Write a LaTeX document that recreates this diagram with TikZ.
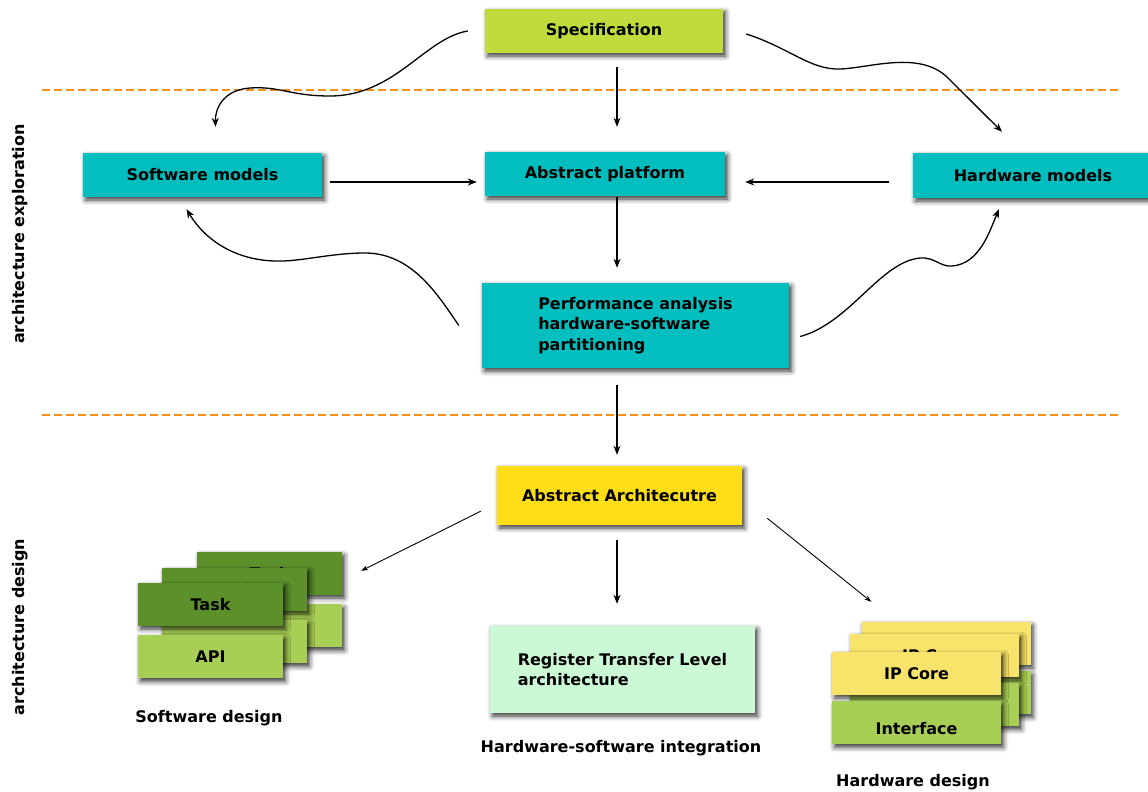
\documentclass[tikz,border=0pt]{standalone}
\usepackage{fontspec}
\setmainfont{DejaVu Sans}
\usetikzlibrary{positioning, arrows.meta, shadows.blur}

\definecolor{spec_green}{RGB}{192,220,60}
\definecolor{model_teal}{RGB}{3,190,190}
\definecolor{arch_yellow}{RGB}{255,222,23}
\definecolor{rtl_green}{RGB}{204,249,213}
\definecolor{sw_dark}{RGB}{91,144,43}
\definecolor{sw_light}{RGB}{168,207,85}
\definecolor{hw_yellow}{RGB}{248,228,106}
\definecolor{layer_orange}{RGB}{247,143,30}

\begin{document}
\begin{tikzpicture}
[
    x=1pt, y=1pt, node distance=9pt,
    every node/.style={font=\bfseries\fontsize{16}{20.5}\selectfont},
    box_node/.style={rectangle, inner sep=0pt, minimum height=44pt, blur shadow={shadow xshift=2.5pt, shadow yshift=-3pt, shadow blur radius=5pt, shadow opacity=80}},
    model_node/.style={box_node, fill=model_teal, minimum width=240pt},
    sw_top/.style={box_node, fill=sw_dark, minimum width=145pt, minimum height=43pt},
    sw_bottom/.style={box_node, fill=sw_light, minimum width=145pt, minimum height=43pt},
    hw_top/.style={box_node, fill=hw_yellow, minimum width=169pt, minimum height=43pt},
    hw_bottom/.style={box_node, fill=sw_light, minimum width=169pt, minimum height=43pt},
    flow/.style={-{Stealth[length=9pt, width=7pt]}, line width=1.3pt},
    thin_flow/.style={-{Stealth[length=7pt, width=5pt]}, line width=0.9pt},
    layer_line/.style={dash pattern=on 8pt off 4pt, line width=1.2pt, draw=layer_orange},
]
    \useasboundingbox (0,0) rectangle (1148,-792);

    \draw[layer_line] (42,-90) -- (1118,-90);
    \draw[layer_line] (42,-415) -- (1118,-415);

    \node[box_node, fill=spec_green, minimum width=238pt] (spec) at (604,-31) {Specification};
    \node[model_node, minimum width=239pt] (sw) at (202.5,-175) {Software models};
    \node[model_node] (platform) at (605,-174) {Abstract platform};
    \node[model_node, minimum height=45pt] (hw) at (1033,-175.5) {Hardware models};
    \node[model_node, minimum width=307pt, minimum height=85pt, align=left] (perf) at (635.5,-325.5) {Performance analysis\\hardware-software\\partitioning};
    \node[box_node, fill=arch_yellow, minimum width=245pt, minimum height=59pt] (arch) at (619.5,-495.5) {Abstract Architecutre};
    \node[box_node, fill=rtl_green, minimum width=265pt, minimum height=87pt, align=left] (rtl) at (622.5,-669.5) {Register Transfer Level\\architecture};

    \node[sw_top] (task3) at (269.5,-573.5) {Task};
    \node[sw_bottom, below=of task3] (api3) {API};
    \node[sw_top] (task2) at (234.5,-589.5) {Task};
    \node[sw_bottom, below=of task2] (api2) {API};
    \node[sw_top] (task1) at (210.5,-604.5) {Task};
    \node[sw_bottom, below=of task1] (api1) {API};

    \node[hw_top] (ip3) at (946,-643.5) {IP Core};
    \node[hw_bottom, below=6pt of ip3] (if3) {};
    \node[hw_top] (ip2) at (934.5,-655.5) {IP Core};
    \node[hw_bottom, below=6pt of ip2] (if2) {};
    \node[hw_top] (ip1) at (916.5,-673.5) {IP Core};
    \node[hw_bottom, below=6pt of ip1] (if1) {\raisebox{-11.5pt}[0pt][0pt]{Interface}};

    \node (sw_label) at (209,-718) {Software design};
    \node (int_label) at (621,-748) {Hardware-software integration};
    \node (hw_label) at (913,-782) {Hardware design};
    \node[rotate=90] (explore_label) at (20,-234) {architecture exploration};
    \node[rotate=90] (design_label) at (20,-627) {architecture design};

    \coordinate (axis) at (617,0);
    \coordinate (row) at (0,-182);

    \draw[flow, shorten <=14pt, shorten >=25pt] (spec.south -| axis) -- (platform.north -| axis);
    \draw[flow, shorten <=1pt, shorten >=15pt] (platform.south -| axis) -- (perf.north -| axis);
    \draw[flow, shorten <=17pt, shorten >=11pt] (perf.south -| axis) -- (arch.north -| axis);
    \draw[flow, shorten <=15pt, shorten >=22pt] (arch.south -| axis) -- (rtl.north -| axis);
    \draw[flow, shorten <=8pt, shorten >=8pt] (sw.east |- row) -- (platform.west |- row);
    \draw[flow, shorten <=24pt, shorten >=20pt] (hw.west |- row) -- (platform.east |- row);

    \draw[thin_flow] ([shift={(-16,14)}]arch.south west) -- ([shift={(19,-19)}]task3.north east);
    \draw[thin_flow] ([shift={(25,7)}]arch.south east) -- ([shift={(10,20)}]ip3.north west);

    \draw[flow] ([xshift=-17pt]spec.west) .. controls (425,-38) and (395,-96) .. (330,-96)
        .. controls (290,-96) and (280,-86) .. (250,-88)
        .. controls (222,-90) and (215,-110) .. ([shift={(13,26)}]sw.north);
    \draw[flow] ([shift={(23,-3)}]spec.east) .. controls (790,-48) and (810,-70) .. (840,-69)
        .. controls (870,-68) and (920,-50) .. (948,-78) -- ([shift={(-31,21)}]hw.north);
    \draw[flow] ([xshift=-23pt]perf.west) .. controls (438,-295) and (412,-253) .. (365,-253)
        .. controls (330,-253) and (300,-262) .. (275,-261)
        .. controls (235,-260) and (205,-240) .. ([shift={(-16,-12)}]sw.south);
    \draw[flow] ([shift={(11,-11)}]perf.east) .. controls (850,-323) and (880,-262) .. (920,-258)
        .. controls (935,-257) and (940,-267) .. (952,-266)
        .. controls (980,-264) and (990,-230) .. ([shift={(-34,-11)}]hw.south);
\end{tikzpicture}
\end{document}
